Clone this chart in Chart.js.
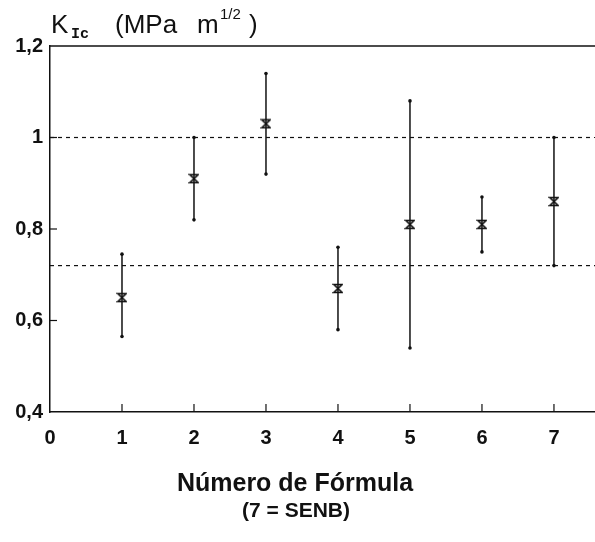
<!DOCTYPE html>
<html>
<head>
<meta charset="utf-8">
<script src="https://cdn.jsdelivr.net/npm/chart.js@4/dist/chart.umd.min.js"></script>
<style>
  html, body { margin: 0; padding: 0; background: #fff; }
  canvas { display: block; }
</style>
</head>
<body>
<canvas id="kicChart" width="595" height="542"></canvas>
<script>
// values
const formulas = [1, 2, 3, 4, 5, 6, 7];
const kMean = [0.65, 0.91, 1.03, 0.67, 0.81, 0.81, 0.86];
const kHigh = [0.745, 1.00, 1.14, 0.76, 1.08, 0.87, 1.00];
const kLow  = [0.565, 0.82, 0.92, 0.58, 0.54, 0.75, 0.72];
const refLines = [1.0, 0.72];

const xTicks = [0, 1, 2, 3, 4, 5, 6, 7];
const xTickLabels = ['0', '1', '2', '3', '4', '5', '6', '7'];
const yTicks = [0.4, 0.6, 0.8, 1.0, 1.2];
const yTickLabels = ['0,4', '0,6', '0,8', '1', '1,2'];
const xRange = [0, 7.57];
const yRange = [0.4, 1.2];

const ink = '#111';

// hourglass marker for the mean
const marker = document.createElement('canvas');
marker.width = 11; marker.height = 11;
(function () {
  const c = marker.getContext('2d');
  c.strokeStyle = ink; c.lineWidth = 1.7;
  c.beginPath();
  c.moveTo(1.5, 1.5); c.lineTo(9.5, 1.5);
  c.lineTo(1.5, 9.5); c.lineTo(9.5, 9.5);
  c.closePath();
  c.stroke();
})();

const errorBars = {
  id: 'errorBars',
  afterDatasetsDraw(chart) {
    const {ctx, scales: {x, y}} = chart;
    ctx.save();
    ctx.strokeStyle = ink;
    ctx.fillStyle = ink;
    ctx.lineWidth = 1.5;
    formulas.forEach((f, i) => {
      const px = x.getPixelForValue(f);
      const top = y.getPixelForValue(kHigh[i]);
      const bot = y.getPixelForValue(kLow[i]);
      ctx.beginPath();
      ctx.moveTo(px, top);
      ctx.lineTo(px, bot);
      ctx.stroke();
      [top, bot].forEach(py => {
        ctx.beginPath();
        ctx.arc(px, py, 1.8, 0, Math.PI * 2);
        ctx.fill();
      });
    });
    ctx.restore();
  }
};

const frame = {
  id: 'frame',
  afterDraw(chart) {
    const {ctx, chartArea: a, scales: {x, y}} = chart;
    ctx.save();
    ctx.strokeStyle = ink;
    ctx.lineWidth = 1.5;
    // top border
    ctx.beginPath();
    ctx.moveTo(a.left, a.top);
    ctx.lineTo(a.right, a.top);
    ctx.stroke();
    // inner tick marks
    ctx.lineWidth = 1.2;
    xTicks.slice(1).forEach(v => {
      const px = x.getPixelForValue(v);
      ctx.beginPath();
      ctx.moveTo(px, a.bottom);
      ctx.lineTo(px, a.bottom - 8);
      ctx.stroke();
    });
    yTicks.slice(1, -1).forEach(v => {
      const py = y.getPixelForValue(v);
      ctx.beginPath();
      ctx.moveTo(a.left, py);
      ctx.lineTo(a.left + 7, py);
      ctx.stroke();
    });

    // axis titles
    ctx.fillStyle = ink;
    ctx.textBaseline = 'alphabetic';
    ctx.textAlign = 'left';
    ctx.font = '26px "Liberation Sans", Arial, sans-serif';
    ctx.fillText('K', 51, 33);
    ctx.font = 'bold 15px "Liberation Mono", "DejaVu Sans Mono", monospace';
    ctx.fillText('Ic', 71, 38);
    ctx.font = '26px "Liberation Sans", Arial, sans-serif';
    ctx.fillText('(MPa', 115, 33);
    ctx.fillText('m', 197, 33);
    ctx.font = '15px "Liberation Sans", Arial, sans-serif';
    ctx.fillText('1/2', 220, 19);
    ctx.font = '26px "Liberation Sans", Arial, sans-serif';
    ctx.fillText(')', 249, 33);

    ctx.textAlign = 'center';
    ctx.textBaseline = 'middle';
    ctx.font = 'bold 25px "Liberation Sans", Arial, sans-serif';
    ctx.fillText('Número de Fórmula', 295, 484);
    ctx.font = 'bold 21px "Liberation Sans", Arial, sans-serif';
    ctx.fillText('(7 = SENB)', 296, 511);
    ctx.restore();
  }
};

const refData = refLines.map(v => ({
  type: 'line',
  data: [{x: xRange[0], y: v}, {x: xRange[1], y: v}],
  borderColor: ink,
  borderWidth: 1.2,
  borderDash: [4, 4],
  pointRadius: 0,
  showLine: true
}));

new Chart(document.getElementById('kicChart'), {
  type: 'scatter',
  data: {
    datasets: [
      {
        data: formulas.map((f, i) => ({x: f, y: kMean[i]})),
        pointStyle: marker,
        pointRadius: 5,
        clip: false
      },
      ...refData
    ]
  },
  options: {
    responsive: false,
    devicePixelRatio: 1,
    animation: false,
    layout: {autoPadding: false, padding: {top: 46, left: 0, right: 0, bottom: 0}},
    plugins: {legend: {display: false}, tooltip: {enabled: false}},
    scales: {
      x: {
        type: 'linear',
        min: xRange[0],
        max: xRange[1],
        afterFit: s => { s.height = 130; s.paddingLeft = 0; s.paddingRight = 0; },
        afterBuildTicks: s => { s.ticks = xTicks.map(v => ({value: v})); },
        grid: {display: true, drawOnChartArea: false, drawTicks: false},
        border: {display: true, color: ink, width: 1.5},
        ticks: {
          padding: 14,
          color: ink,
          font: {family: '"Liberation Sans", Arial, sans-serif', size: 20, weight: 'bold'},
          callback: (v, i) => xTickLabels[i]
        }
      },
      y: {
        type: 'linear',
        min: yRange[0],
        max: yRange[1],
        afterFit: s => { s.width = 50; },
        afterBuildTicks: s => { s.ticks = yTicks.map(v => ({value: v})); },
        grid: {display: true, drawOnChartArea: false, drawTicks: false},
        border: {display: true, color: ink, width: 1.5},
        ticks: {
          padding: 7,
          color: ink,
          font: {family: '"Liberation Sans", Arial, sans-serif', size: 20, weight: 'bold'},
          callback: (v, i) => yTickLabels[i]
        }
      }
    }
  },
  plugins: [errorBars, frame]
});
</script>
</body>
</html>
